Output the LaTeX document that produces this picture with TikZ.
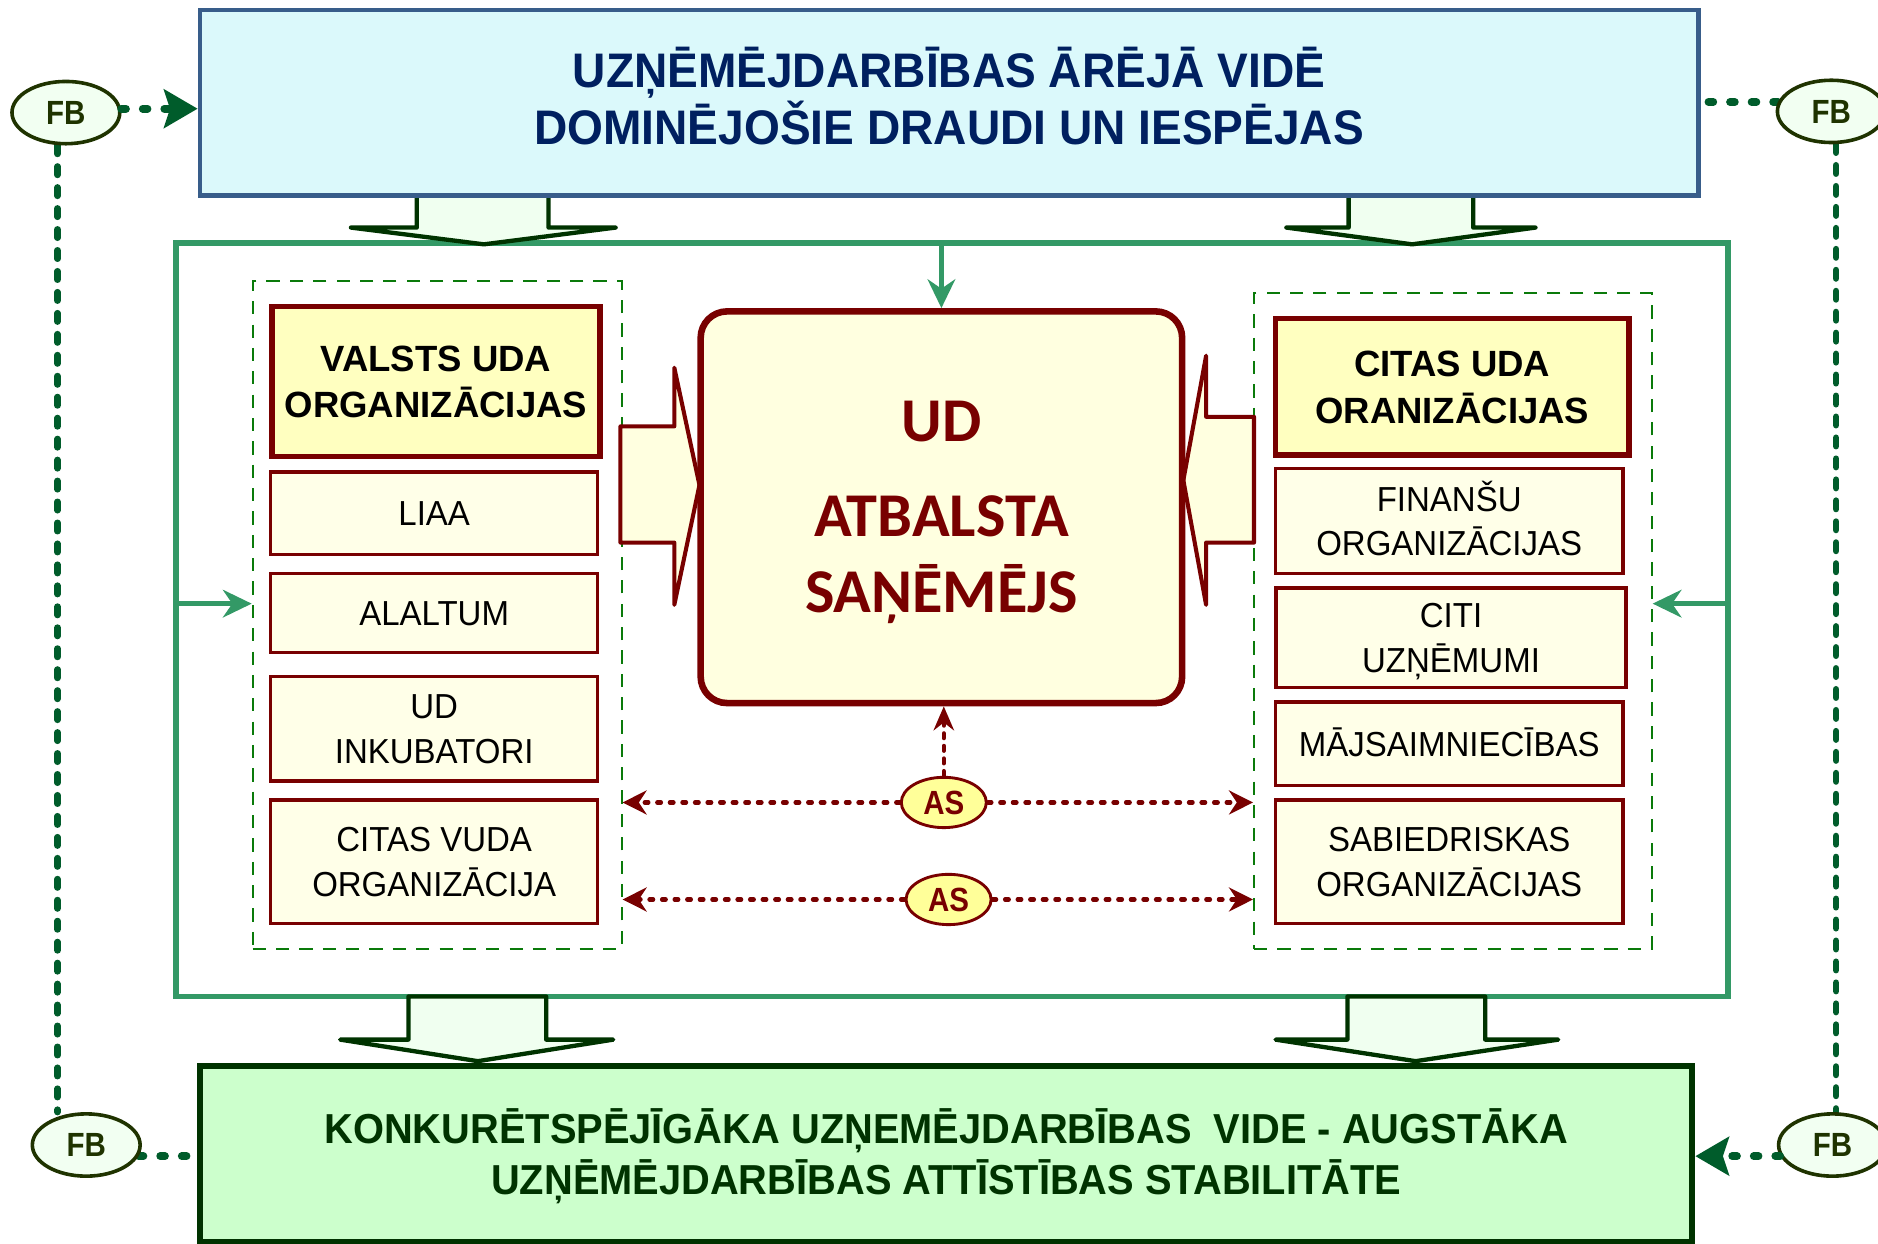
\documentclass[tikz,border=0pt]{standalone}
\usepackage{fontspec}
\setmainfont{Liberation Sans}
\newfontfamily\calf{Carlito}
\newfontfamily\widef[FakeStretch=0.95]{Liberation Sans}
\newfontfamily\narf[FakeStretch=0.88]{Liberation Sans}
\usetikzlibrary{arrows.meta,shapes.geometric,backgrounds}
\definecolor{navy}{HTML}{002060}
\definecolor{topfill}{HTML}{DBF9FB}
\definecolor{topdraw}{HTML}{385D8A}
\definecolor{arrfill}{HTML}{F0FFF0}
\definecolor{dkgreen}{HTML}{003300}
\definecolor{seagreen}{HTML}{339966}
\definecolor{dashgreen}{HTML}{0A7A0A}
\definecolor{udmaroon}{HTML}{780000}
\definecolor{hdrfill}{HTML}{FFFFC0}
\definecolor{subfill}{HTML}{FFFFE8}
\definecolor{udfill}{HTML}{FFFFE0}
\definecolor{asfill}{HTML}{FFFF99}
\definecolor{fbfill}{HTML}{F2FFF2}
\definecolor{fbdraw}{HTML}{1F3300}
\definecolor{fbline}{HTML}{005C2B}
\definecolor{botfill}{HTML}{CCFFCC}
\tikzset{
  hdrbox/.style={draw=udmaroon, line width=4.5pt, fill=hdrfill, inner sep=0pt, align=center,
    font=\fontsize{30.5}{39}\selectfont\bfseries, text depth=0pt, text height=60.8pt},
  subbox/.style={draw=udmaroon, line width=2.8pt, fill=subfill, inner sep=0pt, align=center,
    font=\widef\fontsize{29}{37}\selectfont, text depth=0pt},
  oneline/.style={text height=20.8pt},
  twoline/.style={text height=57.3pt},
  dashbox/.style={draw=dashgreen, line width=1.7pt, dash pattern=on 11pt off 8.5pt, inner sep=0pt},
  blockarr/.style={draw=dkgreen, fill=arrfill, line width=3.6pt, line join=round},
  udarr/.style={draw=udmaroon, fill=udfill, line width=3.4pt, line join=round},
  greenarr/.style={draw=seagreen, line width=4.5pt, -{Stealth[length=24pt,width=23pt]}},
  asnode/.style={ellipse, draw=udmaroon, line width=2.4pt, fill=asfill, minimum width=71pt,
    minimum height=42pt, inner sep=0pt, text=udmaroon, font=\narf\fontsize{28}{28}\selectfont\bfseries,
    text height=20pt, text depth=0pt},
  fbnode/.style={ellipse, draw=fbdraw, line width=3pt, fill=fbfill, minimum width=90pt,
    minimum height=52pt, inner sep=0pt, text=fbdraw, font=\narf\fontsize{28}{28}\selectfont\bfseries,
    text height=20pt, text depth=0pt},
  asdots/.style={draw=udmaroon, line width=3.6pt, line cap=round, dash pattern=on 3pt off 7.5pt,
    -{Stealth[length=20pt,width=20pt]}},
  asvdash/.style={draw=udmaroon, line width=3.6pt, line cap=round, dash pattern=on 4pt off 6.5pt,
    -{Stealth[length=20pt,width=17pt]}},
  fbdots/.style={draw=fbline, line width=6.5pt, line cap=round, dash pattern=on 4pt off 14pt},
  fbvdash/.style={draw=fbline, line width=5.5pt, line cap=round, dash pattern=on 7pt off 10.5pt},
  fbtip/.style={-{Stealth[length=28pt,width=32pt,inset=5pt]}}
}
\begin{document}
\begin{tikzpicture}[x=1pt,y=-1pt]
\useasboundingbox (0,0) rectangle (1568,1038);
\begin{pgfonlayer}{background}
\fill[white] (0,0) rectangle (1568,1038);
\end{pgfonlayer}

% big green frame
\node[draw=seagreen, line width=5pt, minimum width=1296pt, minimum height=629pt, inner sep=0pt] (gbox) at (795,517.5) {};

% top block arrows
\draw[blockarr] (348,163) -- (348,190) -- (293,190) -- (404,204) -- (514,190) -- (458,190) -- (458,163);
\draw[blockarr] (1126,163) -- (1126,190) -- (1074,190) -- (1179,204) -- (1282,190) -- (1230,190) -- (1230,163);

% top box
\node[draw=topdraw, line width=4pt, fill=topfill, minimum width=1251pt, minimum height=154.6pt, inner sep=0pt,
  align=center, text=navy, font=\widef\fontsize{40.5}{47.5}\selectfont\bfseries, text height=76.5pt, text depth=6pt]
  (top) at (792.5,85.7) {UZŅĒMĒJDARBĪBAS ĀRĒJĀ VIDĒ\\DOMINĒJOŠIE DRAUDI UN IESPĒJAS};

% bottom block arrows
\draw[blockarr] (341,832) -- (341,868) -- (284,868) -- (399,886) -- (512,868) -- (456,868) -- (456,832) -- cycle;
\draw[blockarr] (1125,832) -- (1125,868) -- (1065,868) -- (1182,886) -- (1301,868) -- (1240,868) -- (1240,832) -- cycle;

% bottom box
\node[draw=dkgreen, line width=5pt, fill=botfill, minimum width=1246pt, minimum height=147pt, inner sep=0pt,
  align=center, text=dkgreen, font=\widef\fontsize{35}{42}\selectfont\bfseries, text height=67pt, text depth=0pt]
  (bottom) at (790,963.5) {KONKURĒTSPĒJĪGĀKA UZŅEMĒJDARBĪBAS\ \ VIDE - AUGSTĀKA\\UZŅĒMĒJDARBĪBAS ATTĪSTĪBAS STABILITĀTE};

% dashed groups
\node[dashbox, minimum width=308pt, minimum height=557pt] (ldash) at (365,513.5) {};
\node[dashbox, minimum width=332pt, minimum height=547pt] (rdash) at (1213,518.5) {};

% left column
\node[hdrbox, minimum width=274pt, minimum height=125pt] (valsts) at (364,318.5) {VALSTS UDA\\ORGANIZĀCIJAS};
\node[subbox, oneline, minimum width=273pt, minimum height=69pt] (liaa) at (362.5,428.5) {LIAA};
\node[subbox, oneline, minimum width=273pt, minimum height=66pt] (alaltum) at (362.5,512) {ALALTUM};
\node[subbox, twoline, minimum width=273pt, minimum height=87pt] (inkub) at (362.5,608.5) {UD\\INKUBATORI};
\node[subbox, twoline, minimum width=273pt, minimum height=103pt] (citasv) at (362.5,719.5) {CITAS VUDA\\ORGANIZĀCIJA};

% right column
\node[hdrbox, minimum width=295pt, minimum height=114pt] (citas) at (1212.5,323) {CITAS UDA\\ORANIZĀCIJAS};
\node[subbox, twoline, minimum width=290pt, minimum height=88pt] (finansu) at (1210,435) {FINANŠU\\ORGANIZĀCIJAS};
\node[subbox, twoline, minimum width=292pt, minimum height=83pt] (citi) at (1211.5,532.5) {CITI\\UZŅĒMUMI};
\node[subbox, oneline, minimum width=290pt, minimum height=70pt] (majs) at (1210,621) {MĀJSAIMNIECĪBAS};
\node[subbox, twoline, minimum width=290pt, minimum height=103pt] (sabied) at (1210,719.5) {SABIEDRISKAS\\ORGANIZĀCIJAS};

% block arrows into UD
\draw[udarr] (518,356) -- (563,356) -- (563,307) -- (584,405) -- (563,505) -- (563,453) -- (518,453) -- cycle;
\draw[udarr] (1047,348) -- (1007,348) -- (1007,297) -- (988,401) -- (1007,505) -- (1007,453) -- (1047,453) -- cycle;

% central UD box
\node[draw=udmaroon, line width=5.5pt, fill=udfill, rounded corners=22pt, minimum width=402pt, minimum height=327pt,
  inner sep=0pt, align=center, text=udmaroon, font=\calf\fontsize{52}{63}\selectfont\bfseries,
  text height=175pt, text depth=0pt] (ud) at (786,423.5) {UD\\[16pt]ATBALSTA\\SAŅĒMĒJS};

% green arrows
\draw[greenarr] (ud.north |- gbox.north) -- (ud.north);
\coordinate (gl) at (147,504);
\coordinate (gr) at (1443,504);
\draw[greenarr] (gl) -- (gl -| ldash.west);
\draw[greenarr] (gr) -- (gr -| rdash.east);

% AS nodes and links
\node[asnode] (as1) at (788,670) {AS};
\node[asnode] (as2) at (792,751) {AS};
\draw[asvdash] (as1.north) -- (as1.north |- ud.south);
\draw[asdots] (as1.west) -- (as1.west -| ldash.east);
\draw[asdots] (as1.east) -- (as1.east -| rdash.west);
\draw[asdots] (as2.west) -- (as2.west -| ldash.east);
\draw[asdots] (as2.east) -- (as2.east -| rdash.west);

% FB nodes and feedback lines
\node[fbnode] (fb1) at (55,94) {FB};
\node[fbnode] (fb2) at (1529,93) {FB};
\node[fbnode] (fb3) at (72,956) {FB};
\node[fbnode] (fb4) at (1530,956) {FB};
\coordinate (vl) at (48,0);
\coordinate (vr) at (1533,0);
\begin{pgfonlayer}{background}
\draw[fbvdash] (fb1.south -| vl) -- (fb3.north -| vl);
\draw[fbvdash] (fb2.south -| vr) -- (fb4.north -| vr);
\draw[fbdots] (fb2.170) -- (fb2.170 -| top.east);
\draw[fbdots] (fb3.-12) -- (fb3.-12 -| bottom.west);
\end{pgfonlayer}
\draw[fbdots, fbtip] (fb1.4) -- (fb1.4 -| top.west);
\draw[fbdots, fbtip] (fb4.192) -- (fb4.192 -| bottom.east);
\end{tikzpicture}
\end{document}
